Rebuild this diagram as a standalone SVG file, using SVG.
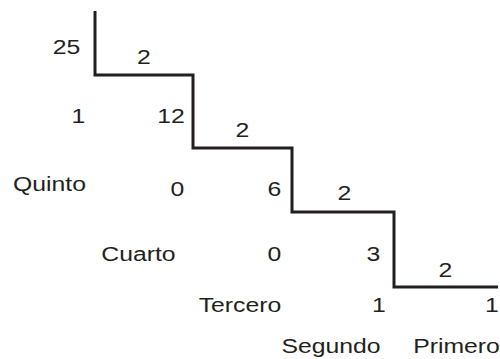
<svg xmlns="http://www.w3.org/2000/svg" width="500" height="359" viewBox="0 0 500 359">
  <style>
    .t { font-family: "Liberation Sans", Arial, sans-serif; font-size: 21px; fill: #231f20; text-anchor: middle; }
    .ladder { fill: none; stroke: #231f20; stroke-width: 3; stroke-linejoin: miter; }
  </style>
  <rect width="500" height="359" fill="#ffffff"/>
  <!-- division staircase -->
  <g id="connectors">
    <path class="ladder" d="M95,11 V75 H193 V148 H292 V212 H394 V287 H498"/>
  </g>
  <!-- labels, stretched horizontally -->
  <g transform="scale(1.18 1)">
    <g id="step1">
      <text class="t" x="56.36" y="54">25</text>
      <text class="t" x="122.03" y="64">2</text>
    </g>
    <g id="step2">
      <text class="t" x="66.53" y="123">1</text>
      <text class="t" x="144.92" y="123">12</text>
      <text class="t" x="205.51" y="137">2</text>
    </g>
    <g id="step3">
      <text class="t" x="41.95" y="191">Quinto</text>
      <text class="t" x="150.42" y="196">0</text>
      <text class="t" x="232.63" y="196">6</text>
      <text class="t" x="291.95" y="200">2</text>
    </g>
    <g id="step4">
      <text class="t" x="117.37" y="261">Cuarto</text>
      <text class="t" x="232.63" y="261">0</text>
      <text class="t" x="316.53" y="261">3</text>
      <text class="t" x="377.54" y="277">2</text>
    </g>
    <g id="step5">
      <text class="t" x="203.39" y="312">Tercero</text>
      <text class="t" x="321.19" y="312">1</text>
      <text class="t" x="416.95" y="312">1</text>
    </g>
    <g id="step6">
      <text class="t" x="280.51" y="353">Segundo</text>
      <text class="t" x="386.86" y="353">Primero</text>
    </g>
  </g>
</svg>
